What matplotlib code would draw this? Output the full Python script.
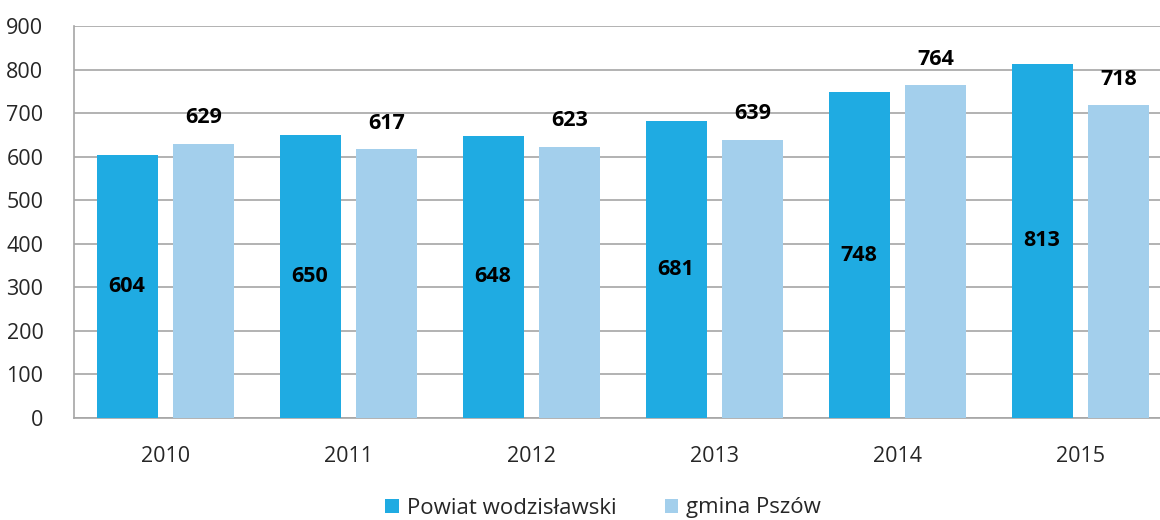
import matplotlib
matplotlib.use('Agg')
import matplotlib.pyplot as plt
import numpy as np

plt.rcParams['font.family'] = ['Open Sans', 'DejaVu Sans']

years = ['2010', '2011', '2012', '2013', '2014', '2015']
powiat = [604, 650, 648, 681, 748, 813]
gmina = [629, 617, 623, 639, 764, 718]

c_dark = '#1FABE2'
c_light = '#A3CFEC'
grid_c = '#A6A6A6'

fig = plt.figure(figsize=(11.6, 5.2), dpi=100)
# axes run a little past the right edge, as in the original crop
ax = fig.add_axes([74 / 1160, 102 / 520, 1098 / 1160, 392 / 520])

x = np.arange(len(years))
w = 0.333
off = 0.21
b1 = ax.bar(x - off, powiat, w, color=c_dark, label='Powiat wodzisławski', zorder=3)
b2 = ax.bar(x + off, gmina, w, color=c_light, label='gmina Pszów', zorder=3)

# value labels: inside dark bars (middle), above light bars
for bar, v in zip(b1, powiat):
    ax.text(bar.get_x() + bar.get_width() / 2, v / 2, str(v),
            ha='center', va='center', fontsize=15.5, fontweight='bold', color='black', zorder=4)
for bar, v in zip(b2, gmina):
    ax.text(bar.get_x() + bar.get_width() / 2, v + 60, str(v),
            ha='center', va='center', fontsize=15.5, fontweight='bold', color='black', zorder=4)

ax.set_xlim(-0.5, 5.5)
ax.set_ylim(0, 900)
ax.set_yticks(range(0, 901, 100))
ax.set_xticks(x)
ax.set_xticklabels(years)
ax.tick_params(axis='both', length=0, labelsize=15.5, colors='#262626')
ax.tick_params(axis='y', pad=22)
ax.tick_params(axis='x', pad=20)
ax.grid(axis='y', color=grid_c, linewidth=1.2, zorder=0)
for s in ['top', 'right']:
    ax.spines[s].set_visible(False)
for s in ['left', 'bottom']:
    ax.spines[s].set_color(grid_c)
    ax.spines[s].set_linewidth(1.2)

fig.legend(handles=[b1, b2], loc='center', bbox_to_anchor=(0.52, 12 / 520),
           ncol=2, frameon=False, fontsize=16, handlelength=0.6, handleheight=0.6,
           handletextpad=0.35, columnspacing=2.2, labelcolor='#262626')

fig.savefig('out.png', dpi=100)
